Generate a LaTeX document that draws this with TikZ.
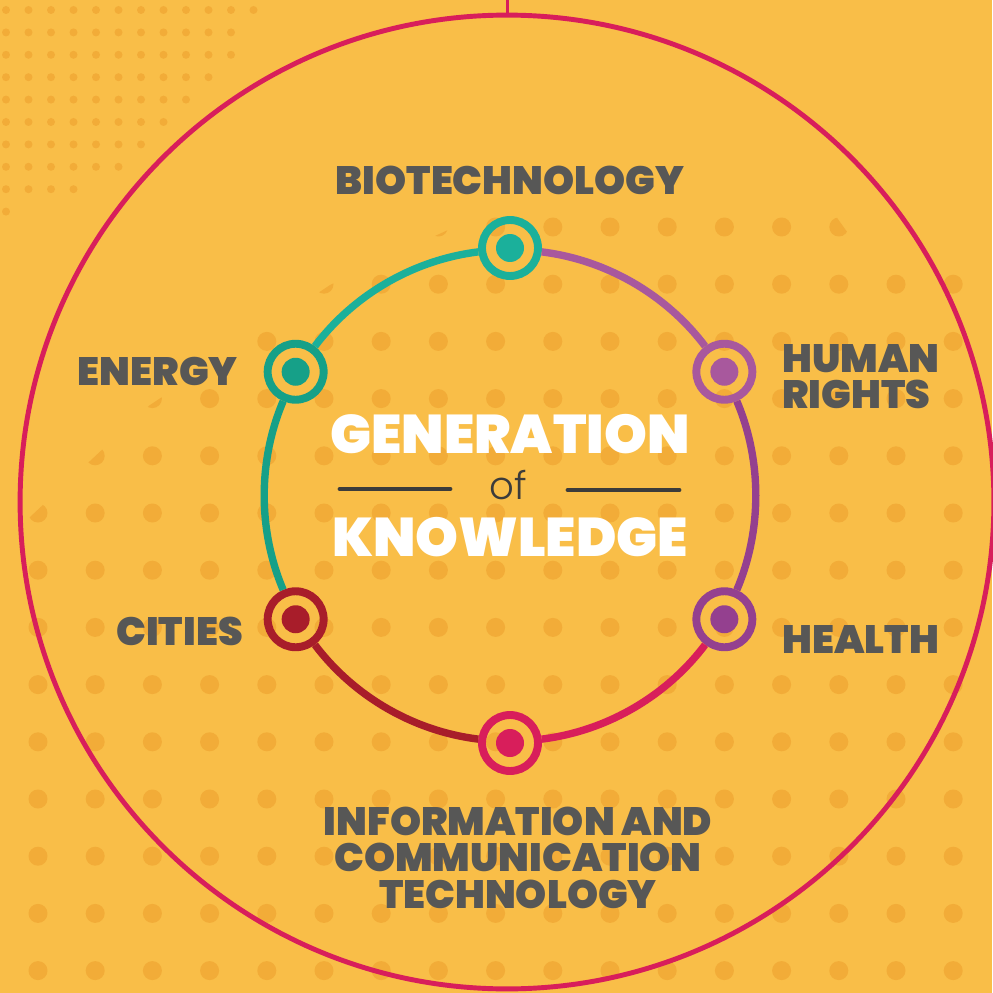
\documentclass[tikz,border=0pt]{standalone}
\usepackage{fontspec}
\usetikzlibrary{positioning,calc}
\IfFontExistsTF{Poppins Black}
  {\newfontfamily\heavyfont{Poppins Black}}
  {\newfontfamily\heavyfont{Poppins}[UprightFont={* Bold},UprightFeatures={FakeBold=1.4}]}
\IfFontExistsTF{Poppins Light}
  {\newfontfamily\thinfont{Poppins Light}}
  {\newfontfamily\thinfont{Poppins}}
\definecolor{paper}{HTML}{F9BE48}
\definecolor{speck}{HTML}{F2AC38}
\definecolor{rosered}{HTML}{D81E5B}
\definecolor{slate}{HTML}{575756}
\definecolor{ink}{HTML}{3C3C3B}
\definecolor{tealA}{HTML}{1BB09B}
\definecolor{tealB}{HTML}{16A088}
\definecolor{mauve}{HTML}{A8589D}
\definecolor{plum}{HTML}{94408F}
\definecolor{crimson}{HTML}{D81E5B}
\definecolor{wine}{HTML}{A81D2A}

\begin{document}
\begin{tikzpicture}[x=0.02cm,y=-0.02cm,
    hub/.style={circle,draw=#1,line width=4.5pt,minimum size=1.12cm,inner sep=0pt,
        path picture={\fill[#1] (path picture bounding box.center) circle[radius=0.28cm];}},
    link/.style={line width=4.2pt,draw=#1},
    tag/.style={font=\heavyfont\fontsize{22.5}{20.7}\selectfont,text=slate,inner sep=0pt,outer sep=0pt},
    title/.style={font=\heavyfont\fontsize{31}{31}\selectfont,text=white,inner sep=0pt},
    rule/.style={line width=2.8pt,line cap=round,draw=ink}]
\useasboundingbox (0,0) rectangle (992,993);
\fill[paper] (0,0) rectangle (992,993);
\foreach \r/\n in {0/12,1/11,2/11,3/10,4/9,5/8,6/7,7/6,8/4,9/1}
    \foreach \c in {1,...,\n}
        \fill[speck] ({6+22.5*(\c-1)},{10+22.4*\r}) circle[radius=0.08cm];
\begin{scope}
\clip (0,993) -- (0,545) -- (150,405) -- (330,285) -- (480,215) -- (835,215)
    -- (860,250) -- (992,250) -- (992,993) -- cycle;
\foreach \i in {0,...,16}
    \foreach \j in {0,...,13}
        \fill[speck] ({38+57.2*\i},{227+57.2*\j}) circle[radius=0.19cm];
\end{scope}

\node[circle,draw=rosered,line width=2.8pt,minimum size=19.48cm,inner sep=0pt] (rim) at (507,502) {};
\coordinate (stem) at (507,0);
\draw[rosered,line width=1.7pt] (stem) -- (rim.north);

\coordinate (mid) at (510,495.5);
\foreach \n/\a/\c in {bio/-90/tealA,rights/-30/mauve,health/30/plum,ict/90/crimson,cities/150/wine,energy/210/tealB}
    \node[hub=\c] (\n) at ($(mid)+(\a:247.5)$) {};
\foreach \a/\b/\c in {bio/rights/mauve,rights/health/plum,health/ict/crimson,ict/cities/wine,cities/energy/tealB,energy/bio/tealA}
    \draw[link=\c] (\a) to[bend left=23,looseness=0.88] (\b);

\node[tag,above=0.42cm of bio] (biolbl) {BIOTECHNOLOGY};
\node[tag,left=0.52cm of energy] (energylbl) {ENERGY};
\node[tag,align=left,right=0.52cm of rights,yshift=-0.1cm] (rightslbl) {HUMAN\\RIGHTS};
\node[tag,right=0.52cm of health,yshift=-0.4cm] (healthlbl) {HEALTH};
\node[tag,left=0.42cm of cities,yshift=-0.24cm] (citieslbl) {CITIES};
\node[tag,align=center,below=0.64cm of ict,xshift=0.16cm] (ictlbl) {INFORMATION AND\\COMMUNICATION\\TECHNOLOGY};

\node[title] (gen) at (510,434) {GENERATION};
\node[title] (know) at (510,537.5) {KNOWLEDGE};
\node[inner sep=0pt,font=\thinfont\fontsize{22}{22}\selectfont,text=ink,anchor=base] (of) at (508,499) {of};
\draw[rule] ($(of.base)+(-58,-10)$) -- ++(-110,0);
\draw[rule] ($(of.base)+(60,-9)$) -- ++(111,0);
\end{tikzpicture}
\end{document}
